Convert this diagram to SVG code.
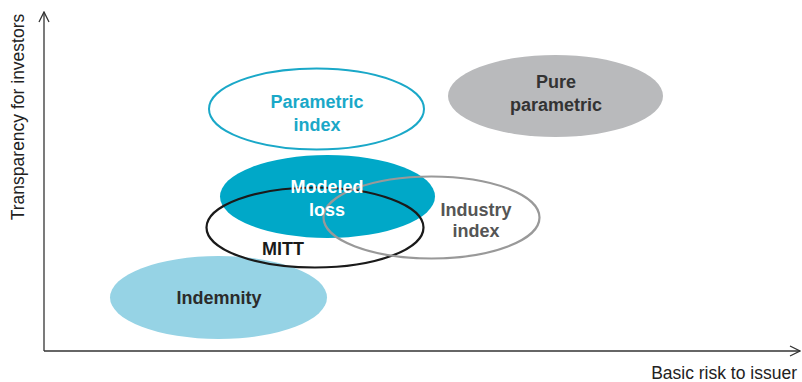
<svg xmlns="http://www.w3.org/2000/svg" width="802" height="382" viewBox="0 0 802 382">
  <style>
    .axis { stroke: #333; stroke-width: 1.3; fill: none; }
    .axis-label { font-family: "Liberation Sans", Arial, sans-serif; font-size: 17.5px; fill: #222; }
    .lbl { font-family: "Liberation Sans", Arial, sans-serif; font-size: 18px; font-weight: bold; text-anchor: middle; }
  </style>
  <defs>
    <marker id="chev" viewBox="0 0 12 12" refX="11" refY="6" markerWidth="12" markerHeight="12" markerUnits="userSpaceOnUse" orient="auto">
      <path d="M1,1 L11,6 L1,11" fill="none" stroke="#333" stroke-width="1.3"/>
    </marker>
  </defs>
  <rect width="802" height="382" fill="#fff"/>

  <!-- axes -->
  <g id="axes">
    <path class="axis" d="M44,351 L44,12" marker-end="url(#chev)"/>
    <path class="axis" d="M44,351 L800,351" marker-end="url(#chev)"/>
    <text class="axis-label" transform="translate(24,117) rotate(-90)" text-anchor="middle">Transparency for investors</text>
    <text class="axis-label" x="797" y="379" text-anchor="end">Basic risk to issuer</text>
  </g>

  <g id="indemnity">
    <ellipse cx="218.5" cy="297.5" rx="108.5" ry="41.5" fill="#96d3e5"/>
    <text class="lbl" x="219" y="304" fill="#2b2b2b">Indemnity</text>
  </g>

  <g id="parametric-index">
    <ellipse cx="316.5" cy="109" rx="107.5" ry="40.5" fill="none" stroke="#1aa8c8" stroke-width="2"/>
    <text class="lbl" x="317" y="108" fill="#1aa8c8">Parametric</text>
    <text class="lbl" x="317" y="131" fill="#1aa8c8">index</text>
  </g>

  <g id="pure-parametric">
    <ellipse cx="555.5" cy="96" rx="107.5" ry="41" fill="#b9babc"/>
    <text class="lbl" x="556" y="88" fill="#333">Pure</text>
    <text class="lbl" x="556" y="111" fill="#333">parametric</text>
  </g>

  <g id="modeled-loss">
    <ellipse cx="327.5" cy="196.5" rx="107.5" ry="41.5" fill="#00a8c8"/>
  </g>

  <g id="mitt">
    <ellipse cx="315" cy="227.5" rx="108.5" ry="40" fill="none" stroke="#1a1a1a" stroke-width="2.2"/>
    <text class="lbl" x="283" y="255" fill="#1a1a1a">MITT</text>
  </g>

  <g id="industry-index">
    <ellipse cx="431.5" cy="217.5" rx="108" ry="41" fill="none" stroke="#999" stroke-width="2.2"/>
    <text class="lbl" x="476" y="216" fill="#555">Industry</text>
    <text class="lbl" x="476" y="237" fill="#555">index</text>
  </g>

  <g id="modeled-loss-label">
    <text class="lbl" x="327" y="193" fill="#fff">Modeled</text>
    <text class="lbl" x="327" y="216" fill="#fff">loss</text>
  </g>
</svg>
